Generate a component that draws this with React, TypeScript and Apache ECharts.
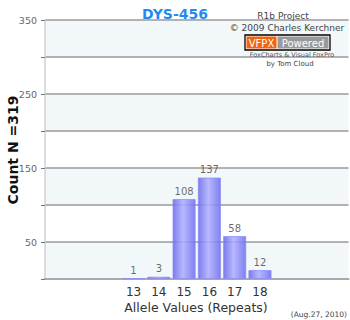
import React, { useEffect, useRef } from "react";
import * as echarts from "echarts";

const categories = ["", "", "", "13", "14", "15", "16", "17", "18", "", "", ""];
const counts: (number | null)[] = [null, null, null, 1, 3, 108, 137, 58, 12, null, null, null];
const yTicks = { min: 0, max: 350, interval: 50 };
const labeledTicks = [50, 150, 250, 350];
const titleText = "DYS-456";
const yName = "Count N =319";
const xName = "Allele Values (Repeats)";
const dateText = "(Aug.27, 2010)";
const credits = ["R1b Project", "© 2009 Charles Kerchner"];
const badge = ["VFPX", "Powered"];
const credits2 = ["FoxCharts & Visual FoxPro", "by Tom Cloud"];

const FONT = "DejaVu Sans, Verdana, sans-serif";

export default function App() {
  const ref = useRef<HTMLDivElement>(null);
  useEffect(() => {
    if (!ref.current) return;
    document.body.style.margin = "0";
    const chart = echarts.init(ref.current, null, { renderer: "svg" });
    const txt = (x: number, y: number, text: string, fontSize: number, fill: string, align = "center", extra: any = {}) => ({
      type: "text",
      x,
      y,
      z: 100,
      style: { text, fontSize, fontFamily: FONT, fill, align, verticalAlign: "middle", ...extra },
    });
    chart.setOption({
      animation: false,
      backgroundColor: "#ffffff",
      textStyle: { fontFamily: FONT },
      title: {
        text: titleText,
        left: "center",
        top: 2,
        textStyle: { color: "#1f8bf0", fontSize: 14, fontWeight: "bold", fontFamily: FONT },
      },
      grid: { left: 45, right: 1.5, top: 20, bottom: 41, containLabel: false },
      xAxis: {
        type: "category",
        data: categories,
        axisLine: { show: true, lineStyle: { color: "#aaaaaa", width: 2 } },
        axisTick: { show: false },
        axisLabel: { color: "#333333", fontSize: 12, margin: 7, fontFamily: FONT, interval: 0 },
      },
      yAxis: {
        type: "value",
        min: yTicks.min,
        max: yTicks.max,
        interval: yTicks.interval,
        axisLine: { show: true, lineStyle: { color: "#d0d0d0", width: 1.5 } },
        axisTick: { show: true, length: 4, lineStyle: { color: "#777777", width: 1 } },
        axisLabel: {
          color: "#666666",
          fontSize: 9.5,
          margin: 8,
          fontFamily: FONT,
          formatter: (v: number) => (labeledTicks.includes(v) ? String(v) : ""),
        },
        splitLine: { show: true, lineStyle: { color: "#9a9a9a", width: 1.5 } },
        splitArea: { show: true, areaStyle: { color: ["#f2f7f9", "#ffffff"] } },
      },
      series: [
        {
          type: "bar",
          data: counts,
          barCategoryGap: "9%",
          itemStyle: {
            opacity: 0.88,
            borderColor: "#8a8af6",
            borderWidth: 0.8,
            color: new echarts.graphic.LinearGradient(0, 0, 1, 0, [
              { offset: 0, color: "#6b6bea" },
              { offset: 0.45, color: "#afafff" },
              { offset: 1, color: "#7070ee" },
            ]),
          },
          label: {
            show: true,
            position: "top",
            distance: 3,
            color: "#555555",
            fontSize: 10,
            fontFamily: FONT,
          },
        },
      ],
      graphic: [
        {
          type: "text",
          x: 13,
          y: 150,
          z: 100,
          rotation: Math.PI / 2,
          style: {
            text: yName,
            fontSize: 14,
            fontWeight: "bold",
            fontFamily: FONT,
            fill: "#111111",
            align: "center",
            verticalAlign: "middle",
          },
        },
        txt(196, 307, xName, 12.5, "#333333"),
        txt(347, 314, dateText, 7.5, "#444444", "right"),
        txt(283, 16, credits[0], 9, "#444444"),
        txt(287, 28, credits[1], 9, "#444444"),
        {
          type: "rect",
          z: 100,
          shape: { x: 245, y: 35, width: 85, height: 15 },
          style: { fill: "#ffffff", stroke: "#000000", lineWidth: 1.3 },
        },
        {
          type: "rect",
          z: 101,
          shape: { x: 246.5, y: 36.5, width: 30, height: 12 },
          style: { fill: "#f2650f" },
        },
        {
          type: "rect",
          z: 101,
          shape: { x: 277.5, y: 36.5, width: 51, height: 12 },
          style: { fill: "#9a9a9a" },
        },
        { ...txt(261.5, 43, badge[0], 10, "#ffffff"), z: 102 },
        { ...txt(303, 43, badge[1], 10, "#ffffff"), z: 102 },
        txt(292, 54.5, credits2[0], 6.5, "#555555"),
        txt(290, 63.5, credits2[1], 7, "#444444"),
      ],
    });
    return () => chart.dispose();
  }, []);
  return <div ref={ref} style={{ position: "fixed", left: 0, top: 0, width: 350, height: 320 }} />;
}
